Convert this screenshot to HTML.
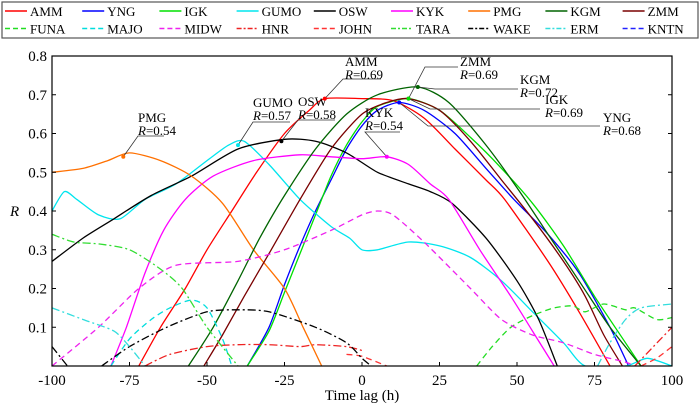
<!DOCTYPE html>
<html><head><meta charset="utf-8">
<style>
body{margin:0;background:#fff;}
svg{display:block;}
svg text{font-family:"Liberation Serif","Times New Roman",serif;}
</style></head>
<body>
<svg id="chart" width="700" height="404" viewBox="0 0 700 404" xmlns="http://www.w3.org/2000/svg" font-family="Liberation Serif, serif">
<g id="legend"></g>
<g id="plot"></g>
<g id="axes"></g>
<g id="ann"></g>
</svg>
<script>
const seriesNames=["AMM","YNG","IGK","GUMO","OSW","KYK","PMG","KGM","ZMM","FUNA","MAJO","MIDW","HNR","JOHN","TARA","WAKE","ERM","KNTN"];
const seriesColors=["#ff0000","#0000ff","#00e000","#00e5ee","#000000","#ff00ff","#ff7000","#006400","#7a0000","#22dd22","#00dddd","#ee22ee","#ee2222","#ff3333","#33dd33","#000000","#33dddd","#2222ff"];
const seriesDash=["","","","","","","","","","6,4","6,4","6,4","8,3,2,3","6,4","8,3,2,3","8,3,2,3","8,3,2,3","6,4"];
const xTicks=[-100,-75,-50,-25,0,25,50,75,100];
const yTicks=[0.1,0.2,0.3,0.4,0.5,0.6,0.7,0.8];
const AMM=[[-72,0],[-65,0.1],[-57,0.2],[-50,0.3],[-42,0.4],[-34,0.5],[-25,0.6],[-17,0.66],[-12,0.69],[0,0.69],[10,0.685],[20,0.64],[30,0.56],[40,0.48],[46,0.43],[60,0.27],[70,0.14],[80,0]];
const YNG=[[-37,0],[-30,0.1],[-25,0.21],[-20,0.31],[-15,0.4],[-10,0.48],[-5,0.56],[0,0.62],[5,0.66],[12,0.68],[20,0.66],[30,0.6],[40,0.51],[49,0.43],[60,0.34],[70,0.24],[80,0.1],[86,0]];
const IGK=[[-37,0],[-30,0.09],[-25,0.19],[-20,0.29],[-15,0.39],[-10,0.49],[-5,0.57],[0,0.63],[5,0.67],[15,0.69],[25,0.66],[35,0.59],[45,0.51],[55,0.42],[65,0.31],[75,0.18],[85,0.06],[90,0]];
const GUMO=[[-100,0.40],[-96,0.45],[-92,0.43],[-85,0.39],[-78,0.38],[-70,0.43],[-60,0.47],[-50,0.53],[-43,0.57],[-38,0.58],[-30,0.52],[-20,0.43],[-10,0.36],[-4,0.33],[0,0.30],[5,0.3],[15,0.32],[25,0.31],[35,0.28],[45,0.22],[55,0.14],[65,0.06],[72,0],[85,0],[92,0.02],[100,0]];
const OSW=[[-100,0.27],[-90,0.33],[-80,0.38],[-68,0.44],[-55,0.49],[-40,0.56],[-25,0.585],[-15,0.58],[-5,0.55],[5,0.5],[15,0.47],[22,0.45],[29,0.42],[40,0.33],[50,0.22],[57,0.12],[63,0]];
const KYK=[[-81,0],[-76,0.1],[-70,0.24],[-64,0.35],[-57,0.43],[-48,0.49],[-35,0.53],[-20,0.545],[-10,0.54],[0,0.535],[8,0.54],[15,0.52],[22,0.47],[28,0.43],[38,0.3],[48,0.18],[55,0.09],[62,0]];
const PMG=[[-100,0.5],[-90,0.51],[-82,0.53],[-75,0.55],[-65,0.53],[-55,0.49],[-45,0.42],[-35,0.3],[-25,0.2],[-19,0.1],[-13,0]];
const KGM=[[-56,0],[-48,0.1],[-40,0.22],[-33,0.33],[-25,0.44],[-15,0.56],[-5,0.65],[5,0.7],[18,0.72],[28,0.68],[40,0.57],[50,0.46],[60,0.34],[70,0.22],[80,0.1],[90,0]];
const ZMM=[[-51,0],[-45,0.08],[-38,0.18],[-30,0.29],[-20,0.43],[-10,0.56],[0,0.65],[8,0.68],[15,0.69],[25,0.66],[35,0.58],[45,0.48],[55,0.38],[65,0.27],[72,0.18],[78,0.08],[84,0]];
const FUNA=[[37,0],[42,0.05],[48,0.1],[55,0.13],[62,0.15],[68,0.155],[72,0.14],[78,0.16],[85,0.145],[88,0.15],[95,0.12],[100,0.125]];
const MAJO=[[-81,0],[-75,0.07],[-68,0.12],[-62,0.15],[-55,0.17],[-50,0.15],[-45,0.07],[-42,0]];
const MIDW=[[-100,0],[-85,0.1],[-72,0.2],[-60,0.26],[-40,0.27],[-25,0.3],[-10,0.35],[0,0.39],[5,0.4],[10,0.39],[20,0.32],[35,0.2],[45,0.12],[55,0.08],[65,0.06],[75,0.03],[85,0.01],[88,0]];
const HNR=[[-70,0],[-62,0.03],[-50,0.05],[-40,0.055],[-30,0.055],[-20,0.05],[-15,0.055],[-5,0.05],[0,0.04],null,[88,0],[94,0.05],[100,0.1]];
const JOHN=[[-5,0.03],[0,0.025],[8,0],null,[90,0],[95,0.02],[100,0.05]];
const TARA=[[-100,0.34],[-93,0.32],[-85,0.315],[-75,0.3],[-65,0.25],[-58,0.2],[-50,0.1],[-40,0]];
const WAKE=[[-100,0.05],[-95,0],null,[-84,0],[-75,0.05],[-63,0.1],[-50,0.14],[-40,0.145],[-30,0.14],[-15,0.1],[-5,0.06],[0,0.02],[3,0]];
const ERM=[[-100,0.15],[-90,0.12],[-80,0.09],[-75,0.05],[-70,0],null,[76,0],[80,0.06],[85,0.12],[90,0.15],[100,0.16]];
const KNTN=[];
const seriesData=[AMM,YNG,IGK,GUMO,OSW,KYK,PMG,KGM,ZMM,FUNA,MAJO,MIDW,HNR,JOHN,TARA,WAKE,ERM,KNTN];
const peakNames=["PMG","GUMO","OSW","KYK","AMM","ZMM","KGM","IGK","YNG"];
const peakValues=[0.54,0.57,0.58,0.54,0.69,0.69,0.72,0.69,0.68];
const peakLags=[-77,-40,-26,8,-12,15,18,15,12];

const X0=52,X1=672,Y0=366,Y1=56;
const sx=v=>X0+(v+100)/200*(X1-X0);
const sy=v=>Y0-v/0.8*(Y0-Y1);
const NS="http://www.w3.org/2000/svg";
function mk(tag,attrs,parent){const e=document.createElementNS(NS,tag);for(const k in attrs)e.setAttribute(k,attrs[k]);parent.appendChild(e);return e;}
function smooth(pts){
  let d="";
  for(let i=0;i<pts.length;i++){
    const p=pts[i];
    if(i===0){d+="M"+p[0].toFixed(1)+","+p[1].toFixed(1);continue;}
    const p0=pts[i-2]||pts[i-1],p1=pts[i-1],p3=pts[i+1]||p;
    const k=8;
    const c1=[p1[0]+(p[0]-p0[0])/k,p1[1]+(p[1]-p0[1])/k];
    const c2=[p[0]-(p3[0]-p1[0])/k,p[1]-(p3[1]-p1[1])/k];
    d+="C"+c1.map(v=>v.toFixed(1))+" "+c2.map(v=>v.toFixed(1))+" "+p[0].toFixed(1)+","+p[1].toFixed(1);
  }
  return d;
}
const plot=document.getElementById('plot');
mk('clipPath',{id:'clip'},plot).appendChild(document.createElementNS(NS,'rect'));
const cr=plot.querySelector('#clip rect');cr.setAttribute('x',X0);cr.setAttribute('y',Y1);cr.setAttribute('width',X1-X0);cr.setAttribute('height',Y0-Y1);
seriesData.forEach((data,i)=>{
  const segs=[[]];
  data.forEach(p=>{if(p===null)segs.push([]);else segs[segs.length-1].push([sx(p[0]),sy(p[1])]);});
  let d="";segs.forEach(s=>{if(s.length>1)d+=smooth(s);});
  const path=mk('path',{d:d||"M0,0",fill:"none",stroke:seriesColors[i],"stroke-width":1.3,"clip-path":"url(#clip)"},plot);
  if(seriesDash[i])path.setAttribute('stroke-dasharray',seriesDash[i]);
  
  
});
const ax=document.getElementById('axes');
const box=mk('rect',{x:X0,y:Y1,width:X1-X0,height:Y0-Y1,fill:"none",stroke:"#000","stroke-width":1.2},ax);


xTicks.forEach(t=>{
  mk('line',{x1:sx(t),x2:sx(t),y1:Y0,y2:Y0-4,stroke:"#000"},ax);
  const tx=mk('text',{x:sx(t),y:385,"text-anchor":"middle","font-size":15},ax);tx.textContent=t;
  
  
});
yTicks.forEach(t=>{
  mk('line',{x1:X0,x2:X0+4,y1:sy(t),y2:sy(t),stroke:"#000"},ax);
  mk('line',{x1:X1,x2:X1-4,y1:sy(t),y2:sy(t),stroke:"#000"},ax);
  const tx=mk('text',{x:47,y:sy(t)+5,"text-anchor":"end","font-size":15},ax);tx.textContent=t.toFixed(1);
  
  
});
const xt=mk('text',{x:362,y:400,"text-anchor":"middle","font-size":15},ax);xt.textContent="Time lag (h)";


const yt=mk('text',{x:10,y:216,"font-size":15,"font-style":"italic"},ax);yt.textContent="R";


const lg=document.getElementById('legend');
mk('rect',{x:2,y:2,width:696,height:36,fill:"#fff",stroke:"#555","stroke-width":1.2},lg);
seriesNames.forEach((n,i)=>{
  const col=i%9,row=Math.floor(i/9);
  const x=5+col*77.2,y=11+row*17.5;
  const g=mk('g',{},lg);
  
  
  const l=mk('line',{x1:x,x2:x+22,y1:y,y2:y,stroke:seriesColors[i],"stroke-width":1.5},g);
  if(seriesDash[i])l.setAttribute('stroke-dasharray',seriesDash[i]==="6,4"?"5,3":"5,2,2,2");
  const t=mk('text',{x:x+25,y:y+5,"font-size":13},g);t.textContent=n;
});
const ann=document.getElementById('ann');
const annLayout={PMG:[138,122,138,136,164],GUMO:[253,107,253,122,290],OSW:[298,106,298,120,335],KYK:[365,117,365,132,400],AMM:[345,66,343,79,381],ZMM:[460,66,425,67,458],KGM:[520,84,435,89,518],IGK:[545,104,430,109,540],YNG:[603,122,428,126,600]};
peakNames.forEach((n,i)=>{
  const c=seriesColors[seriesNames.indexOf(n)];
  const px=sx(peakLags[i]),py=sy(peakValues[i]);
  const L=annLayout[n];
  const g=mk('g',{},ann);
  
  
  mk('polyline',{points:`${px},${py} ${L[2]},${L[3]} ${L[4]},${L[3]}`,fill:"none",stroke:"#333","stroke-width":0.8},g);
  mk('circle',{cx:px,cy:py,r:2,fill:c},g);
  const t1=mk('text',{x:L[0],y:L[1],"font-size":13},g);t1.textContent=n;
  const t2=mk('text',{x:L[0],y:L[1]+13,"font-size":13},g);
  const r=mk('tspan',{"font-style":"italic"},t2);r.textContent="R";
  const v=mk('tspan',{},t2);v.textContent="="+peakValues[i].toFixed(2);
});
</script>
</body></html>
